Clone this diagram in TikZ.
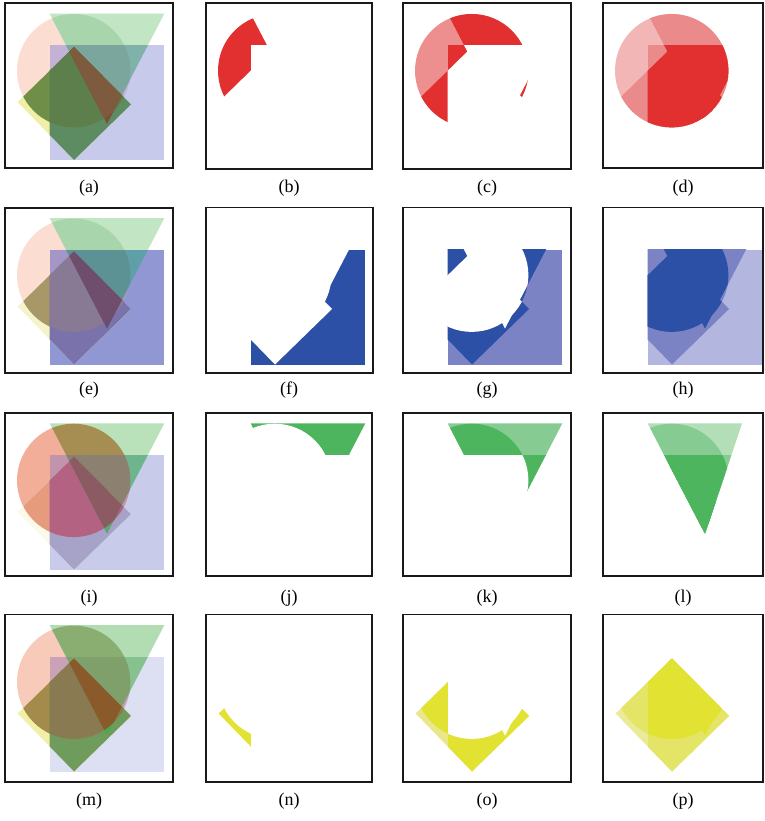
\documentclass[tikz,border=0pt]{standalone}
\usepackage{fontspec}
\setmainfont{Liberation Serif}
% shapes in panel-local coordinates (px, y down)
\def\shC{(68.7,67.7) circle[radius=56.7pt]}
\def\shT{(44.7,10.7) -- (159.3,10.7) -- (102,121) -- cycle}
\def\shTl{(44.7,10.7) -- (139,10.7) -- (102,121) -- cycle}
\def\shS{(44.7,42) rectangle (159.3,157.3)}
\def\shD{(69,44) -- (126,101.5) -- (69,157) -- (12.7,99) -- cycle}
% composite colours
\def\defcols#1#2#3#4#5#6#7#8#9{%
  \definecolor{#1C}{HTML}{#2}\definecolor{#1T}{HTML}{#3}\definecolor{#1S}{HTML}{#4}%
  \definecolor{#1D}{HTML}{#5}\definecolor{#1CT}{HTML}{#6}\definecolor{#1CS}{HTML}{#7}%
  \definecolor{#1CD}{HTML}{#8}\definecolor{#1TS}{HTML}{#9}\defcolsb#1}
\def\defcolsb#1#2#3#4#5#6{%
  \definecolor{#1SD}{HTML}{#2}\definecolor{#1CTS}{HTML}{#3}\definecolor{#1CSD}{HTML}{#4}%
  \definecolor{#1TSD}{HTML}{#5}\definecolor{#1CTSD}{HTML}{#6}}
\defcols{a}{FBDDD2}{C2E5C3}{C7CAEA}{F1EFA6}{A9D5AC}{C4B2D6}{6F8E48}{7FB3AA}{5E8C62}{7AA69E}{5D7F4C}{7A5038}{7E5A3E}
\defcols{e}{FBDDD2}{C2E5C3}{9097D2}{F5F3CC}{A9D5AC}{A496C6}{A89868}{5FA0A8}{7A72AA}{5C9294}{887A94}{6A4C70}{6E4E6C}
\defcols{i}{F2AE98}{BAE2BA}{C9CBEA}{FBF9EA}{A68E52}{C294AC}{E59B7C}{6EB58E}{A6A2C8}{8C8070}{B46282}{5AA872}{8C5A62}
\defcols{m}{F8CABA}{B2DDB2}{DDDFF2}{F2EFA6}{8AAE72}{CAA2B8}{A48B4C}{86C290}{6F9C5C}{7FA06A}{8A7A52}{4AA850}{8A5A2A}
% layer colours
\definecolor{redF}{HTML}{E23030}\definecolor{redM}{HTML}{EA8A8A}\definecolor{redL}{HTML}{F3B6B6}\definecolor{redC}{HTML}{EE8F8F}
\definecolor{bluF}{HTML}{2C50A6}\definecolor{bluM}{HTML}{7B83C4}\definecolor{bluL}{HTML}{B3B7DF}\definecolor{bluC}{HTML}{7B83C4}
\definecolor{grnF}{HTML}{4DB55E}\definecolor{grnM}{HTML}{86CB92}\definecolor{grnL}{HTML}{B2DFB8}\definecolor{grnC}{HTML}{86CB92}
\definecolor{yelF}{HTML}{E2E232}\definecolor{yelM}{HTML}{E4E466}\definecolor{yelL}{HTML}{EAEA98}\definecolor{yelC}{HTML}{E8E88A}
\newcommand\composite[1]{%
  \fill[#1C] \shC; \fill[#1T] \shT; \fill[#1S] \shS; \fill[#1D] \shD;
  \begin{scope}\clip \shC; \fill[#1CT] \shT; \fill[#1CS] \shS; \fill[#1CD] \shD; \end{scope}
  \begin{scope}\clip \shT; \fill[#1TS] \shS; \end{scope}
  \begin{scope}\clip \shS; \fill[#1SD] \shD; \end{scope}
  \begin{scope}\clip \shC; \clip \shT; \fill[#1CTS] \shS; \end{scope}
  \begin{scope}\clip \shC; \clip \shS; \fill[#1CSD] \shD; \end{scope}
  \begin{scope}\clip \shT; \clip \shS; \fill[#1TSD] \shD; \end{scope}
  \begin{scope}\clip \shC; \clip \shT; \clip \shS; \fill[#1CTSD] \shD; \end{scope}}
% first layer only: #1 shape, #2-#4 others, #5 colour
\newcommand\layerone[5]{%
  \fill[#5] #1; \fill[white] #2; \fill[white] #3; \fill[white] #4;}
% second layer: #5 count0 colour, #6 count1 colour, count>=2 removed
\newcommand\layertwo[6]{%
  \fill[#5] #1;
  \begin{scope}\clip #1; \fill[#6] #2; \fill[#6] #3; \fill[#6] #4; \end{scope}
  \begin{scope}\clip #2; \fill[white] #3; \fill[white] #4; \end{scope}
  \begin{scope}\clip #3; \fill[white] #4; \end{scope}}
% all layers: #5 count0, #6 count1, #7 count>=2
\newcommand\layersall[7]{%
  \fill[#5] #1;
  \begin{scope}\clip #1; \fill[#6] #2; \fill[#6] #3; \fill[#6] #4; \end{scope}
  \begin{scope}\clip #1; \clip #2; \fill[#7] #3; \fill[#7] #4; \end{scope}
  \begin{scope}\clip #1; \clip #3; \fill[#7] #4; \end{scope}}
\newcommand\panelat[3]{\begin{scope}[shift={(#1,#2)}]#3\end{scope}}
\tikzset{frame/.style={draw=black!90,line width=1.8pt},
  lab/.style={font=\fontsize{18}{20}\selectfont,inner sep=0pt}}
\begin{document}
\begin{tikzpicture}[x=1pt,y=-1pt]
\useasboundingbox[fill=white] (0,0) rectangle (764,821);
% row 1 : red circle
\panelat{5}{3}{\composite{a}}
\panelat{206}{3}{\layerone{\shC}{\shT}{\shS}{\shD}{redF}}
\panelat{403}{3}{\layertwo{\shC}{\shT}{\shS}{\shD}{redC}{redF}}
\panelat{603}{3}{\layersall{\shC}{\shT}{\shS}{\shD}{redL}{redM}{redF}}
% row 2 : blue square
\panelat{5}{207.5}{\composite{e}}
\panelat{206}{207.5}{\layerone{\shS}{\shC}{\shT}{\shD}{bluF}}
\panelat{403}{207.5}{\layertwo{\shS}{\shC}{\shT}{\shD}{bluC}{bluF}}
\panelat{603}{207.5}{\layersall{\shS}{\shC}{\shT}{\shD}{bluL}{bluM}{bluF}}
% row 3 : green triangle
\panelat{5}{412.7}{\composite{i}}
\panelat{206}{412.7}{\layerone{\shT}{\shC}{\shS}{\shD}{grnF}}
\panelat{403}{412.7}{\layertwo{\shT}{\shC}{\shS}{\shD}{grnC}{grnF}}
\panelat{603}{412.7}{\layersall{\shTl}{\shC}{\shS}{\shD}{grnL}{grnM}{grnF}}
% row 4 : yellow diamond
\panelat{5}{614.5}{\composite{m}}
\panelat{206}{614.5}{\layerone{\shD}{\shC}{\shT}{\shS}{yelF}}
\panelat{403}{614.5}{\layertwo{\shD}{\shC}{\shT}{\shS}{yelC}{yelF}}
\panelat{603}{614.5}{\layersall{\shD}{\shC}{\shT}{\shS}{yelL}{yelM}{yelF}}
% frames
\draw[frame] (5,3) rectangle (173,168);
\draw[frame] (206,3) rectangle (372,169);
\draw[frame] (403,3) rectangle (571,169);
\draw[frame] (603,3) rectangle (763,168);
\draw[frame] (5,208) rectangle (173,373);
\draw[frame] (206,207.5) rectangle (373,373);
\draw[frame] (403,207.5) rectangle (571,373);
\draw[frame] (603,207.5) rectangle (763,373);
\draw[frame] (5,412.7) rectangle (173,576);
\draw[frame] (206,412.7) rectangle (372,576);
\draw[frame] (403,412.7) rectangle (571,576);
\draw[frame] (603,412.7) rectangle (763,576);
\draw[frame] (5,614.5) rectangle (173,782);
\draw[frame] (206,614.5) rectangle (372,782);
\draw[frame] (403,614.5) rectangle (571,782);
\draw[frame] (603,614.5) rectangle (763,782);
% labels
\node[lab] (la) at (89,188) {(a)};
\node[lab] (lb) at (289,188) {(b)};
\node[lab] (lc) at (487,188) {(c)};
\node[lab] (ld) at (683,188) {(d)};
\node[lab] (le) at (89,390) {(e)};
\node[lab] (lf) at (289,390) {(f)};
\node[lab] (lg) at (487,390) {(g)};
\node[lab] (lh) at (683,390) {(h)};
\node[lab] (li) at (89,598) {(i)};
\node[lab] (lj) at (289,598) {(j)};
\node[lab] (lk) at (487,598) {(k)};
\node[lab] (ll) at (683,598) {(l)};
\node[lab] (lm) at (89,801) {(m)};
\node[lab] (ln) at (289,801) {(n)};
\node[lab] (lo) at (487,801) {(o)};
\node[lab] (lp) at (683,801) {(p)};
\end{tikzpicture}
\end{document}
